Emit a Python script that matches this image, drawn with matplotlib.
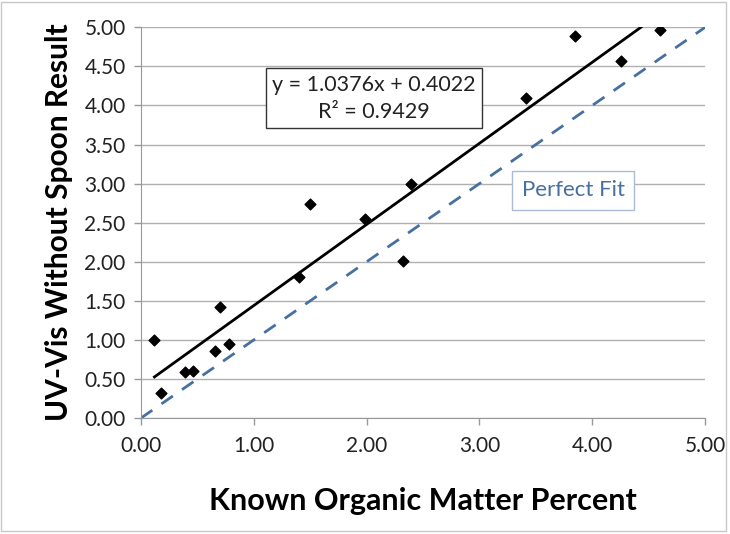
import numpy as np
import matplotlib
matplotlib.use("Agg")
import matplotlib.pyplot as plt
from matplotlib.patches import Rectangle

# Known organic matter (%) vs UV-Vis result
known_pct = [0.12, 0.18, 0.39, 0.46, 0.66, 0.70, 0.78, 1.40, 1.50, 1.99,
             2.32, 2.39, 3.41, 3.85, 4.25, 4.60]
uvvis_result = [1.00, 0.32, 0.59, 0.60, 0.86, 1.42, 0.95, 1.80, 2.74, 2.55,
                2.01, 2.99, 4.09, 4.89, 4.57, 4.96]

slope = 1.0376
intercept = 0.4022
r_squared = 0.9429

x_ticks = [0, 1, 2, 3, 4, 5]
y_ticks = [0, 0.5, 1, 1.5, 2, 2.5, 3, 3.5, 4, 4.5, 5]

plt.rcParams["font.family"] = ["Lato", "DejaVu Sans"]

fig = plt.figure(figsize=(7.30, 5.34), dpi=100)
ax = fig.add_axes([0.193, 0.217, 0.773, 0.732])

# chart-area border
fig.patches.append(Rectangle((0.002, 0.006), 0.993, 0.99, transform=fig.transFigure,
                             fill=False, edgecolor="#c8c8c8", linewidth=1.0))

ax.set_xlim(0, 5)
ax.set_ylim(0, 5)
ax.set_xticks(x_ticks)
ax.set_yticks(y_ticks)
ax.set_xticklabels([f"{v:.2f}" for v in x_ticks])
ax.set_yticklabels([f"{v:.2f}" for v in y_ticks])
ax.tick_params(axis="both", labelsize=15, colors="#222222", length=5,
               color="#999999", width=1)
ax.tick_params(axis="x", pad=8)
ax.tick_params(axis="y", pad=6)

ax.grid(axis="y", color="#b0b0b0", linewidth=1.0)
ax.set_axisbelow(True)
for side in ["top", "right"]:
    ax.spines[side].set_visible(False)
for side in ["left", "bottom"]:
    ax.spines[side].set_color("#999999")

# perfect fit line
ax.plot([0, 5], [0, 5], linestyle=(0, (5, 4)), color="#46709f", linewidth=2.0, zorder=2)

# linear trend line, clipped at top of axis
x_start = min(known_pct)
x_end = (5 - intercept) / slope
ax.plot([x_start, x_end], [slope * x_start + intercept, 5.0], color="black",
        linewidth=2.0, zorder=3)

ax.scatter(known_pct, uvvis_result, marker="D", s=30, color="black", zorder=4)

ax.text(0.413, 0.818, f"y = {slope:.4f}x + {intercept:.4f}\nR\u00b2 = {r_squared:.4f}",
        transform=ax.transAxes, ha="center", va="center", fontsize=15.5,
        color="#222222", linespacing=1.45,
        bbox=dict(boxstyle="square,pad=0.3", facecolor="white", edgecolor="#333333",
                  linewidth=1.0))

ax.text(0.766, 0.583, "Perfect Fit", transform=ax.transAxes, ha="center", va="center",
        fontsize=16, color="#46709f",
        bbox=dict(boxstyle="square,pad=0.42", facecolor="white", edgecolor="#a9bcd3",
                  linewidth=1.0))

ax.set_xlabel("Known Organic Matter Percent", fontsize=22, fontweight="bold",
              labelpad=22)
ax.set_ylabel("UV-Vis Without Spoon Result", fontsize=21.5, fontweight="bold",
              labelpad=8)

fig.savefig("out.png", dpi=100)
